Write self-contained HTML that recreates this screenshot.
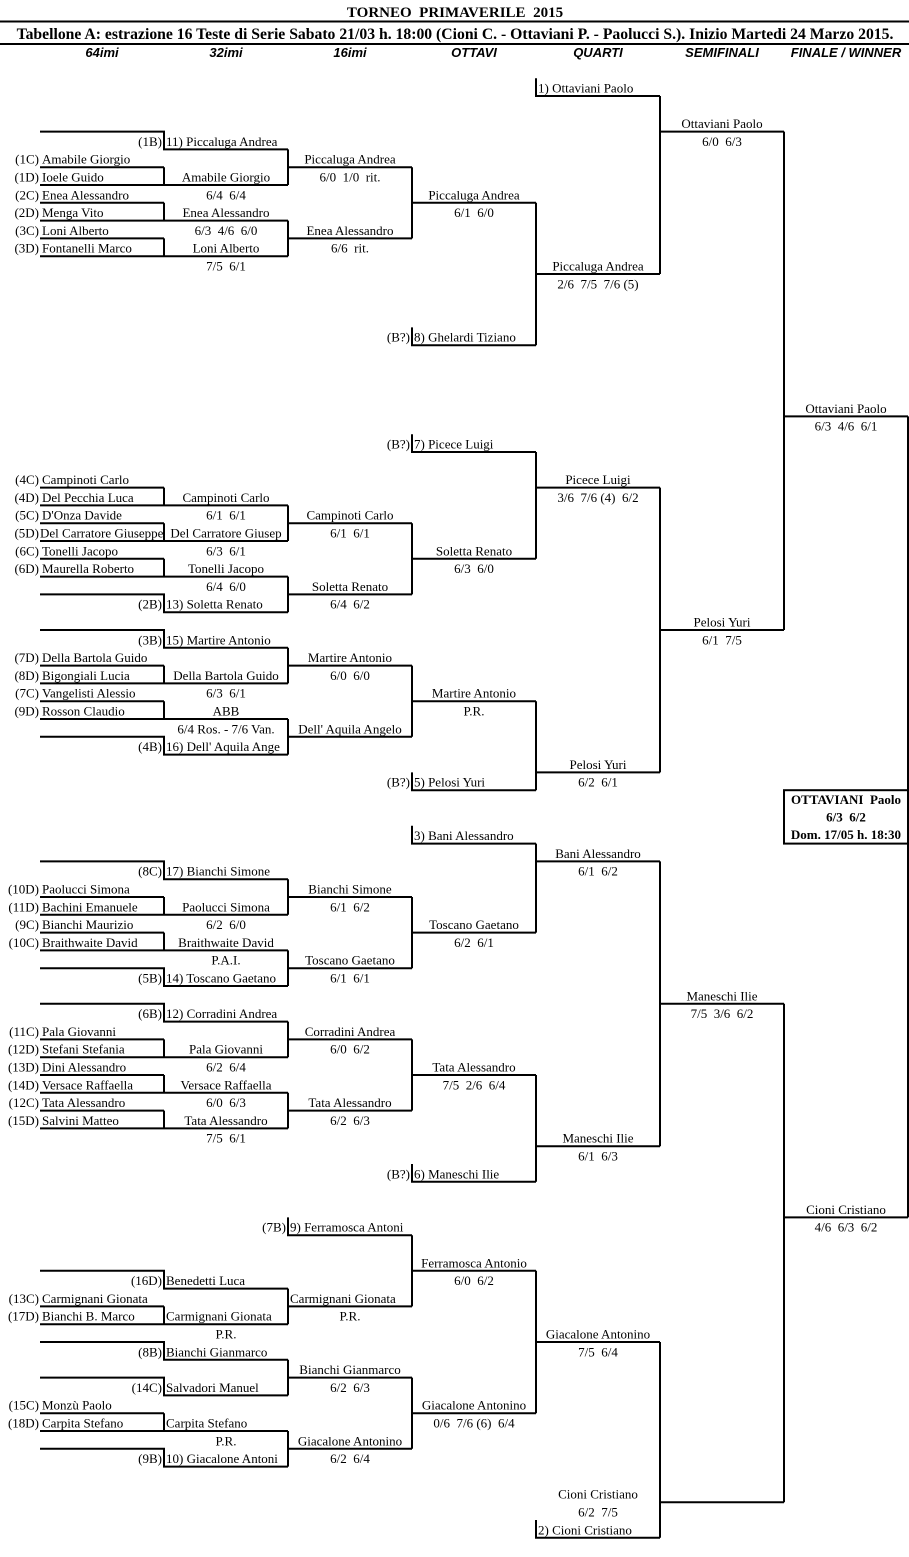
<!DOCTYPE html>
<html><head><meta charset="utf-8"><style>
html,body{margin:0;padding:0;background:#fff;}
svg{display:block;}
text{font-family:"Liberation Serif",serif;font-size:13px;fill:#000;white-space:pre;}
.m{text-anchor:middle}.e{text-anchor:end}
.h{font-family:"Liberation Sans",sans-serif;font-style:italic;font-weight:bold;font-size:13px;text-anchor:middle}
.b{font-weight:bold}
</style></head><body>
<svg width="909" height="1557" viewBox="0 0 909 1557" xmlns="http://www.w3.org/2000/svg">
<text x="455" y="17" class="m b" style="font-size:15px">TORNEO  PRIMAVERILE  2015</text>
<line x1="0" y1="21.5" x2="909" y2="21.5" stroke="#000" stroke-width="2"/>
<text x="455" y="39" class="m b" style="font-size:15.7px">Tabellone A: estrazione 16 Teste di Serie Sabato 21/03 h. 18:00 (Cioni C. - Ottaviani P. - Paolucci S.). Inizio Martedi 24 Marzo 2015.</text>
<line x1="0" y1="44" x2="909" y2="44" stroke="#000" stroke-width="2"/>
<text x="102" y="57" class="h">64imi</text>
<text x="226" y="57" class="h">32imi</text>
<text x="350" y="57" class="h">16imi</text>
<text x="474" y="57" class="h">OTTAVI</text>
<text x="598" y="57" class="h">QUARTI</text>
<text x="722" y="57" class="h">SEMIFINALI</text>
<text x="846" y="57" class="h">FINALE / WINNER</text>

<path fill="none" stroke="#000" stroke-width="2" d="
M536 78.2 V96 H660
M40 131.6 H164 V149.4 H288
M40 167.2 H164 M40 185 H288 M164 167.2 V185
M288 149.4 V185 M288 167.2 H412
M40 202.8 H164 M40 220.6 H288 M164 202.8 V220.6
M40 238.4 H164 M40 256.2 H288 M164 238.4 V256.2
M288 220.6 V256.2 M288 238.4 H412
M412 167.2 V238.4 M412 202.8 H536
M412 327.4 V345.2 H536
M536 202.8 V345.2 M536 274 H660
M660 96 V274 M660 131.6 H784
M412 434.2 V452 H536
M40 487.6 H164 M40 505.4 H288 M164 487.6 V505.4
M40 523.2 H164 M40 541 H288 M164 523.2 V541
M288 505.4 V541 M288 523.2 H412
M40 558.8 H164 M40 576.6 H288 M164 558.8 V576.6
M40 594.4 H164 V612.2 H288
M288 576.6 V612.2 M288 594.4 H412
M412 523.2 V594.4 M412 558.8 H536
M536 452 V558.8 M536 487.6 H660
M40 630 H164 V647.8 H288
M40 665.6 H164 M40 683.4 H288 M164 665.6 V683.4
M288 647.8 V683.4 M288 665.6 H412
M40 701.2 H164 M40 719 H288 M164 701.2 V719
M40 736.8 H164 V754.6 H288
M288 719 V754.6 M288 736.8 H412
M412 665.6 V736.8 M412 701.2 H536
M412 772.4 V790.2 H536
M536 701.2 V790.2 M536 772.4 H660
M660 487.6 V772.4 M660 630 H784
M784 131.6 V630 M784 416.4 H908
M412 825.8 V843.6 H536
M40 861.4 H164 V879.2 H288
M40 897 H164 M40 914.8 H288 M164 897 V914.8
M288 879.2 V914.8 M288 897 H412
M40 932.6 H164 M40 950.4 H288 M164 932.6 V950.4
M40 968.2 H164 V986 H288
M288 950.4 V986 M288 968.2 H412
M412 897 V968.2 M412 932.6 H536
M536 843.6 V932.6 M536 861.4 H660
M40 1003.8 H164 V1021.6 H288
M40 1039.4 H164 M40 1057.2 H288 M164 1039.4 V1057.2
M288 1021.6 V1057.2 M288 1039.4 H412
M40 1075 H164 M40 1092.8 H288 M164 1075 V1092.8
M40 1110.6 H164 M40 1128.4 H288 M164 1110.6 V1128.4
M288 1092.8 V1128.4 M288 1110.6 H412
M412 1039.4 V1110.6 M412 1075 H536
M412 1164 V1181.8 H536
M536 1075 V1181.8 M536 1146.2 H660
M660 861.4 V1146.2 M660 1003.8 H784
M288 1217.4 V1235.2 H412
M40 1270.8 H164 V1288.6 H288
M40 1306.4 H164 M40 1324.2 H288 M164 1306.4 V1324.2
M288 1288.6 V1324.2 M288 1306.4 H412
M412 1235.2 V1306.4 M412 1270.8 H536
M40 1342 H164 V1359.8 H288
M40 1377.6 H164 V1395.4 H288
M288 1359.8 V1395.4 M288 1377.6 H412
M40 1413.2 H164 M40 1431 H288 M164 1413.2 V1431
M40 1448.8 H164 V1466.6 H288
M288 1431 V1466.6 M288 1448.8 H412
M412 1377.6 V1448.8 M412 1413.2 H536
M536 1270.8 V1413.2 M536 1342 H660
M536 1520 V1537.8 H660
M660 1342 V1537.8 M660 1502.2 H784
M784 1003.8 V1502.2 M784 1217.4 H908
M908 416.4 V1217.4
"/>
<rect x="784" y="790.2" width="124" height="53.4" fill="none" stroke="#000" stroke-width="2"/>

<text x="538" y="92.5">1) Ottaviani Paolo</text>
<text x="722" y="128.1" class="m">Ottaviani Paolo</text>
<text x="722" y="145.9" class="m">6/0  6/3</text>
<text x="162" y="145.9" class="e">(1B)</text><text x="166" y="145.9">11) Piccaluga Andrea</text>
<text x="39" y="163.7" class="e">(1C)</text><text x="42" y="163.7">Amabile Giorgio</text><text x="350" y="163.7" class="m">Piccaluga Andrea</text>
<text x="39" y="181.5" class="e">(1D)</text><text x="42" y="181.5">Ioele Guido</text><text x="226" y="181.5" class="m">Amabile Giorgio</text><text x="350" y="181.5" class="m">6/0  1/0  rit.</text>
<text x="39" y="199.3" class="e">(2C)</text><text x="42" y="199.3">Enea Alessandro</text><text x="226" y="199.3" class="m">6/4  6/4</text><text x="474" y="199.3" class="m">Piccaluga Andrea</text>
<text x="39" y="217.1" class="e">(2D)</text><text x="42" y="217.1">Menga Vito</text><text x="226" y="217.1" class="m">Enea Alessandro</text><text x="474" y="217.1" class="m">6/1  6/0</text>
<text x="39" y="234.9" class="e">(3C)</text><text x="42" y="234.9">Loni Alberto</text><text x="226" y="234.9" class="m">6/3  4/6  6/0</text><text x="350" y="234.9" class="m">Enea Alessandro</text>
<text x="39" y="252.7" class="e">(3D)</text><text x="42" y="252.7">Fontanelli Marco</text><text x="226" y="252.7" class="m">Loni Alberto</text><text x="350" y="252.7" class="m">6/6  rit.</text>
<text x="226" y="270.5" class="m">7/5  6/1</text><text x="598" y="270.5" class="m">Piccaluga Andrea</text>
<text x="598" y="288.3" class="m">2/6  7/5  7/6 (5)</text>
<text x="410" y="341.7" class="e">(B?)</text><text x="414" y="341.7">8) Ghelardi Tiziano</text>
<text x="846" y="412.9" class="m">Ottaviani Paolo</text>
<text x="846" y="430.7" class="m">6/3  4/6  6/1</text>
<text x="410" y="448.5" class="e">(B?)</text><text x="414" y="448.5">7) Picece Luigi</text>
<text x="39" y="484.1" class="e">(4C)</text><text x="42" y="484.1">Campinoti Carlo</text><text x="598" y="484.1" class="m">Picece Luigi</text>
<text x="39" y="501.9" class="e">(4D)</text><text x="42" y="501.9">Del Pecchia Luca</text><text x="226" y="501.9" class="m">Campinoti Carlo</text><text x="598" y="501.9" class="m">3/6  7/6 (4)  6/2</text>
<text x="39" y="519.7" class="e">(5C)</text><text x="42" y="519.7">D'Onza Davide</text><text x="226" y="519.7" class="m">6/1  6/1</text><text x="350" y="519.7" class="m">Campinoti Carlo</text>
<text x="39" y="537.5" class="e">(5D)</text><text x="40" y="537.5">Del Carratore Giuseppe</text><text x="226" y="537.5" class="m">Del Carratore Giusep</text><text x="350" y="537.5" class="m">6/1  6/1</text>
<text x="39" y="555.3" class="e">(6C)</text><text x="42" y="555.3">Tonelli Jacopo</text><text x="226" y="555.3" class="m">6/3  6/1</text><text x="474" y="555.3" class="m">Soletta Renato</text>
<text x="39" y="573.1" class="e">(6D)</text><text x="42" y="573.1">Maurella Roberto</text><text x="226" y="573.1" class="m">Tonelli Jacopo</text><text x="474" y="573.1" class="m">6/3  6/0</text>
<text x="226" y="590.9" class="m">6/4  6/0</text><text x="350" y="590.9" class="m">Soletta Renato</text>
<text x="162" y="608.7" class="e">(2B)</text><text x="166" y="608.7">13) Soletta Renato</text><text x="350" y="608.7" class="m">6/4  6/2</text>
<text x="722" y="626.5" class="m">Pelosi Yuri</text>
<text x="162" y="644.3" class="e">(3B)</text><text x="166" y="644.3">15) Martire Antonio</text><text x="722" y="644.3" class="m">6/1  7/5</text>
<text x="39" y="662.1" class="e">(7D)</text><text x="42" y="662.1">Della Bartola Guido</text><text x="350" y="662.1" class="m">Martire Antonio</text>
<text x="39" y="679.9" class="e">(8D)</text><text x="42" y="679.9">Bigongiali Lucia</text><text x="226" y="679.9" class="m">Della Bartola Guido</text><text x="350" y="679.9" class="m">6/0  6/0</text>
<text x="39" y="697.7" class="e">(7C)</text><text x="42" y="697.7">Vangelisti Alessio</text><text x="226" y="697.7" class="m">6/3  6/1</text><text x="474" y="697.7" class="m">Martire Antonio</text>
<text x="39" y="715.5" class="e">(9D)</text><text x="42" y="715.5">Rosson Claudio</text><text x="226" y="715.5" class="m">ABB</text><text x="474" y="715.5" class="m">P.R.</text>
<text x="226" y="733.3" class="m">6/4 Ros. - 7/6 Van.</text><text x="350" y="733.3" class="m">Dell' Aquila Angelo</text>
<text x="162" y="751.1" class="e">(4B)</text><text x="166" y="751.1">16) Dell' Aquila Ange</text>
<text x="598" y="768.9" class="m">Pelosi Yuri</text>
<text x="410" y="786.7" class="e">(B?)</text><text x="414" y="786.7">5) Pelosi Yuri</text><text x="598" y="786.7" class="m">6/2  6/1</text>

<text x="846" y="804" class="m b">OTTAVIANI  Paolo</text>
<text x="846" y="821.5" class="m b">6/3  6/2</text>
<text x="846" y="839" class="m b">Dom. 17/05 h. 18:30</text>

<text x="414" y="840.1">3) Bani Alessandro</text>
<text x="598" y="857.9" class="m">Bani Alessandro</text>
<text x="162" y="875.7" class="e">(8C)</text><text x="166" y="875.7">17) Bianchi Simone</text><text x="598" y="875.7" class="m">6/1  6/2</text>
<text x="39" y="893.5" class="e">(10D)</text><text x="42" y="893.5">Paolucci Simona</text><text x="350" y="893.5" class="m">Bianchi Simone</text>
<text x="39" y="911.3" class="e">(11D)</text><text x="42" y="911.3">Bachini Emanuele</text><text x="226" y="911.3" class="m">Paolucci Simona</text><text x="350" y="911.3" class="m">6/1  6/2</text>
<text x="39" y="929.1" class="e">(9C)</text><text x="42" y="929.1">Bianchi Maurizio</text><text x="226" y="929.1" class="m">6/2  6/0</text><text x="474" y="929.1" class="m">Toscano Gaetano</text>
<text x="39" y="946.9" class="e">(10C)</text><text x="42" y="946.9">Braithwaite David</text><text x="226" y="946.9" class="m">Braithwaite David</text><text x="474" y="946.9" class="m">6/2  6/1</text>
<text x="226" y="964.7" class="m">P.A.I.</text><text x="350" y="964.7" class="m">Toscano Gaetano</text>
<text x="162" y="982.5" class="e">(5B)</text><text x="166" y="982.5">14) Toscano Gaetano</text><text x="350" y="982.5" class="m">6/1  6/1</text>
<text x="722" y="1000.3" class="m">Maneschi Ilie</text>
<text x="162" y="1018.1" class="e">(6B)</text><text x="166" y="1018.1">12) Corradini Andrea</text><text x="722" y="1018.1" class="m">7/5  3/6  6/2</text>
<text x="39" y="1035.9" class="e">(11C)</text><text x="42" y="1035.9">Pala Giovanni</text><text x="350" y="1035.9" class="m">Corradini Andrea</text>
<text x="39" y="1053.7" class="e">(12D)</text><text x="42" y="1053.7">Stefani Stefania</text><text x="226" y="1053.7" class="m">Pala Giovanni</text><text x="350" y="1053.7" class="m">6/0  6/2</text>
<text x="39" y="1071.5" class="e">(13D)</text><text x="42" y="1071.5">Dini Alessandro</text><text x="226" y="1071.5" class="m">6/2  6/4</text><text x="474" y="1071.5" class="m">Tata Alessandro</text>
<text x="39" y="1089.3" class="e">(14D)</text><text x="42" y="1089.3">Versace Raffaella</text><text x="226" y="1089.3" class="m">Versace Raffaella</text><text x="474" y="1089.3" class="m">7/5  2/6  6/4</text>
<text x="39" y="1107.1" class="e">(12C)</text><text x="42" y="1107.1">Tata Alessandro</text><text x="226" y="1107.1" class="m">6/0  6/3</text><text x="350" y="1107.1" class="m">Tata Alessandro</text>
<text x="39" y="1124.9" class="e">(15D)</text><text x="42" y="1124.9">Salvini Matteo</text><text x="226" y="1124.9" class="m">Tata Alessandro</text><text x="350" y="1124.9" class="m">6/2  6/3</text>
<text x="226" y="1142.7" class="m">7/5  6/1</text><text x="598" y="1142.7" class="m">Maneschi Ilie</text>
<text x="598" y="1160.5" class="m">6/1  6/3</text>
<text x="410" y="1178.3" class="e">(B?)</text><text x="414" y="1178.3">6) Maneschi Ilie</text>
<text x="846" y="1213.9" class="m">Cioni Cristiano</text>
<text x="846" y="1231.7" class="m">4/6  6/3  6/2</text>
<text x="286" y="1231.7" class="e">(7B)</text><text x="290" y="1231.7">9) Ferramosca Antoni</text>
<text x="474" y="1267.3" class="m">Ferramosca Antonio</text>
<text x="162" y="1285.1" class="e">(16D)</text><text x="166" y="1285.1">Benedetti Luca</text><text x="474" y="1285.1" class="m">6/0  6/2</text>
<text x="39" y="1302.9" class="e">(13C)</text><text x="42" y="1302.9">Carmignani Gionata</text><text x="290" y="1302.9">Carmignani Gionata</text>
<text x="39" y="1320.7" class="e">(17D)</text><text x="42" y="1320.7">Bianchi B. Marco</text><text x="166" y="1320.7">Carmignani Gionata</text><text x="350" y="1320.7" class="m">P.R.</text>
<text x="226" y="1338.5" class="m">P.R.</text><text x="598" y="1338.5" class="m">Giacalone Antonino</text>
<text x="162" y="1356.3" class="e">(8B)</text><text x="166" y="1356.3">Bianchi Gianmarco</text><text x="598" y="1356.3" class="m">7/5  6/4</text>
<text x="350" y="1374.1" class="m">Bianchi Gianmarco</text>
<text x="162" y="1391.9" class="e">(14C)</text><text x="166" y="1391.9">Salvadori Manuel</text><text x="350" y="1391.9" class="m">6/2  6/3</text>
<text x="39" y="1409.7" class="e">(15C)</text><text x="42" y="1409.7">Monzù Paolo</text><text x="474" y="1409.7" class="m">Giacalone Antonino</text>
<text x="39" y="1427.5" class="e">(18D)</text><text x="42" y="1427.5">Carpita Stefano</text><text x="166" y="1427.5">Carpita Stefano</text><text x="474" y="1427.5" class="m">0/6  7/6 (6)  6/4</text>
<text x="226" y="1445.3" class="m">P.R.</text><text x="350" y="1445.3" class="m">Giacalone Antonino</text>
<text x="162" y="1463.1" class="e">(9B)</text><text x="166" y="1463.1">10) Giacalone Antoni</text><text x="350" y="1463.1" class="m">6/2  6/4</text>
<text x="598" y="1498.7" class="m">Cioni Cristiano</text>
<text x="598" y="1516.5" class="m">6/2  7/5</text>
<text x="538" y="1534.3">2) Cioni Cristiano</text>
</svg>
</body></html>
